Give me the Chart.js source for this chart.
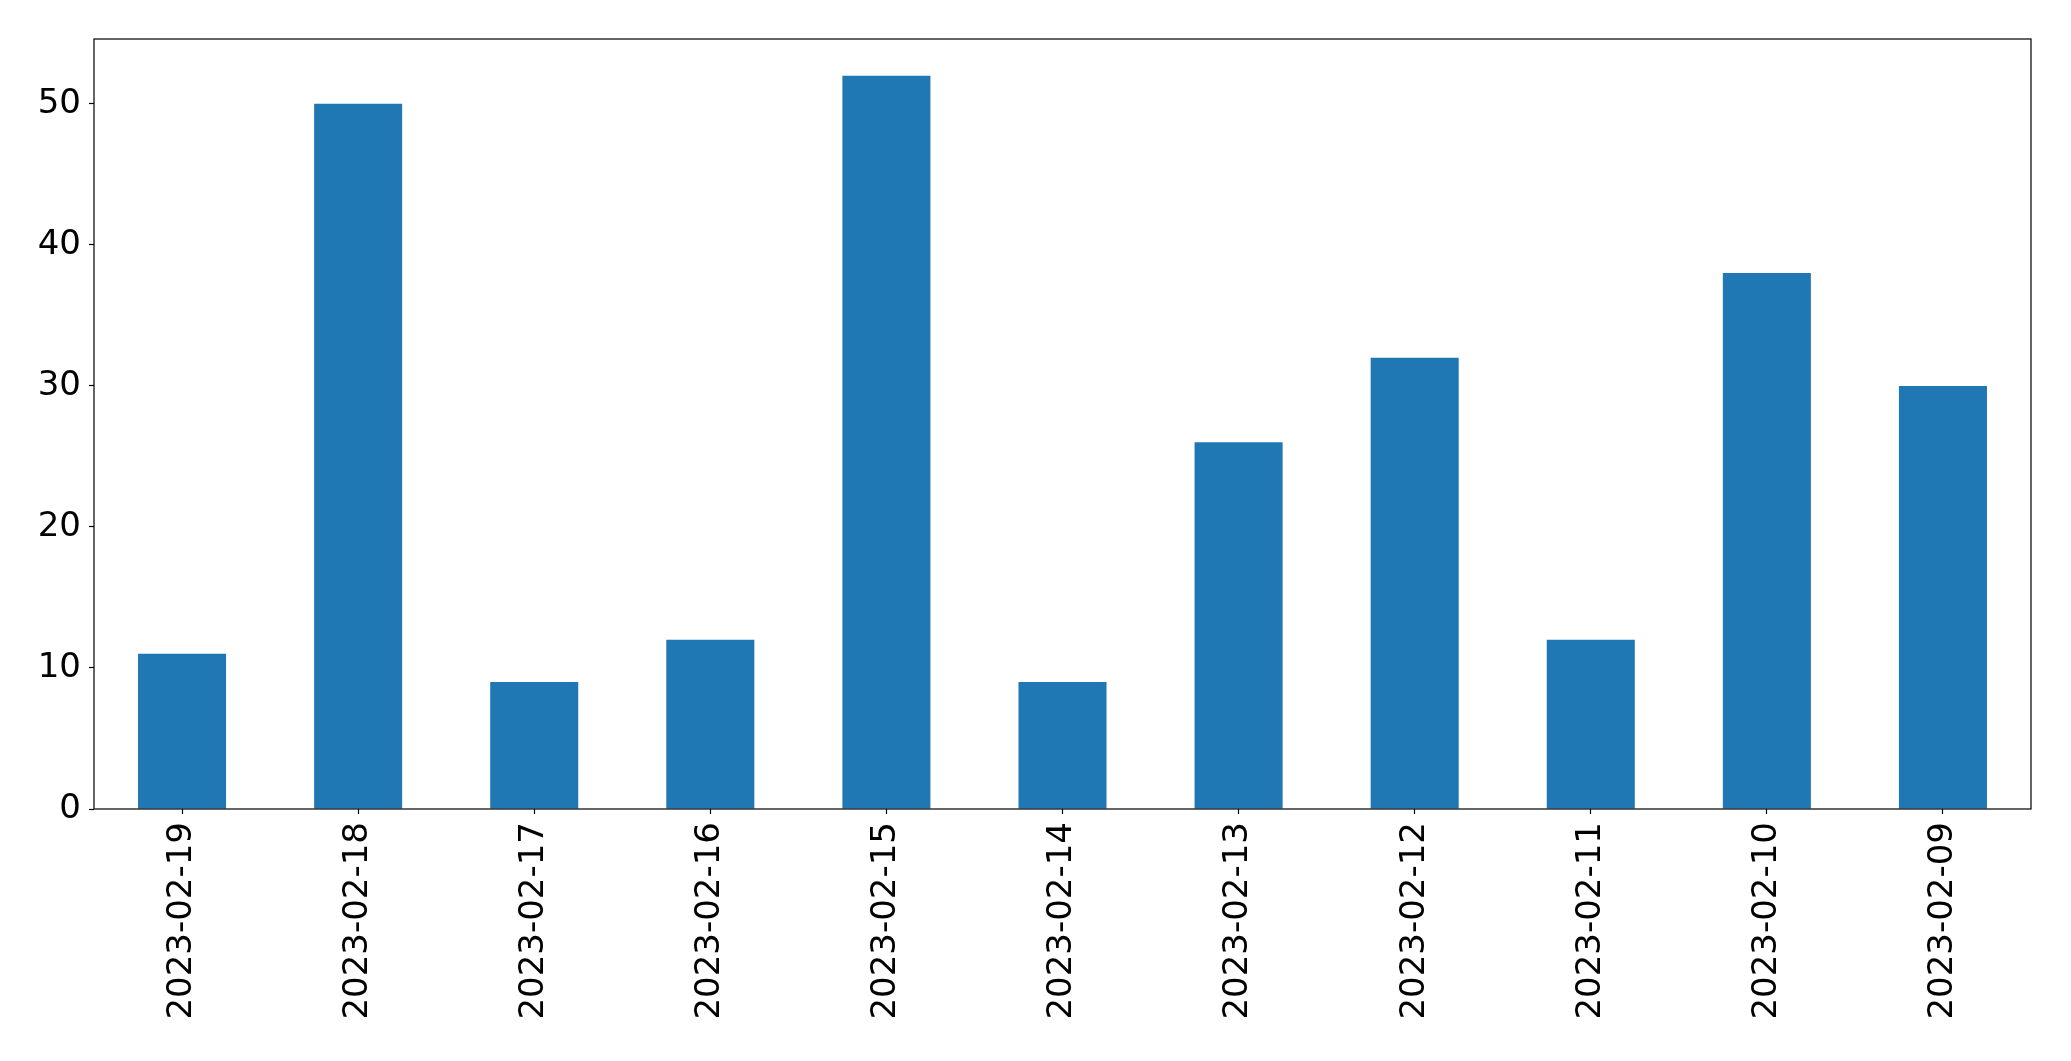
<!DOCTYPE html>
<html>
<head>
<meta charset="utf-8">
<script src="https://cdn.jsdelivr.net/npm/chart.js@4"></script>
<style>
  html, body { margin: 0; padding: 0; background: #fff; }
  #wrap { width: 2071px; height: 1061px; }
</style>
</head>
<body>
<div id="wrap"><canvas id="main"></canvas></div>
<script>
const dates = ['2023-02-19','2023-02-18','2023-02-17','2023-02-16','2023-02-15','2023-02-14','2023-02-13','2023-02-12','2023-02-11','2023-02-10','2023-02-09'];
const counts = [11, 50, 9, 12, 52, 9, 26, 32, 12, 38, 30];
const yTicks = [0, 10, 20, 30, 40, 50];
const yMax = 54.6;

// box round the plot, like matplotlib's spines
const frame = {
    id: 'frame',
    afterDatasetsDraw(chart) {
        const a = chart.chartArea;
        const ctx = chart.ctx;
        ctx.save();
        ctx.strokeStyle = '#000';
        ctx.lineWidth = 1.2;
        ctx.strokeRect(a.left, a.top, a.right - a.left, a.bottom - a.top);
        ctx.restore();
    }
};

new Chart(document.getElementById('main'), {
    type: 'bar',
    data: {
        labels: dates,
        datasets: [{
            data: counts,
            backgroundColor: '#1f77b4',
            borderWidth: 0,
            categoryPercentage: 0.5,
            barPercentage: 1.0
        }]
    },
    options: {
        responsive: true,
        maintainAspectRatio: false,
        animation: false,
        layout: { padding: { top: 39, right: 40, left: 0, bottom: 0 } },
        plugins: { legend: { display: false }, tooltip: { enabled: false } },
        scales: {
            x: {
                grid: { display: true, offset: false, drawOnChartArea: false, drawTicks: true, tickLength: 5, tickColor: '#000', tickWidth: 1.2 },
                border: { display: false },
                ticks: {
                    color: '#000',
                    font: { family: 'DejaVu Sans', size: 34 },
                    minRotation: 90,
                    maxRotation: 90,
                    padding: 8,
                    autoSkip: false
                },
                afterFit(scale) { scale.height = 252; }
            },
            y: {
                min: 0,
                max: yMax,
                grid: { display: true, drawOnChartArea: false, drawTicks: true, tickLength: 5, tickColor: '#000', tickWidth: 1.2 },
                border: { display: false },
                afterBuildTicks(scale) { scale.ticks = yTicks.map(v => ({ value: v })); },
                ticks: {
                    color: '#000',
                    font: { family: 'DejaVu Sans', size: 34 },
                    padding: 8
                },
                afterFit(scale) { scale.width = 94; }
            }
        }
    },
    plugins: [frame]
});
</script>
</body>
</html>
